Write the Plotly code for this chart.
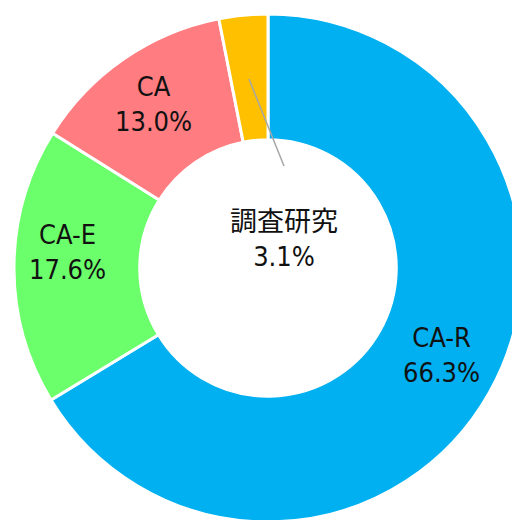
import plotly.graph_objects as go

labels = ["CA-R", "CA-E", "CA", "調査研究"]
values = [66.3, 17.6, 13.0, 3.1]
colors = ["#00B0F0", "#6BFF6B", "#FF7C80", "#FFC000"]

W, H = 540, 540
cx, cy, R = 268, 268, 254

def px(x):
    return x / W

def py(y):
    return 1 - y / H

fig = go.Figure(go.Pie(
    labels=labels, values=values, hole=0.505, sort=False,
    direction="clockwise", rotation=0,
    marker=dict(colors=colors, line=dict(color="white", width=3)),
    textinfo="none", hoverinfo="label+percent",
    domain=dict(x=[px(cx - R), px(cx + R)], y=[py(cy + R), py(cy - R)]),
    showlegend=False,
))

# label positions (pixels) for each slice
label_pos = [(441, 355), (67, 252), (153, 104), (284, 239)]
font = dict(family="DejaVu Sans Condensed, Noto Sans CJK JP, sans-serif", size=27, color="#111111")
for lab, val, (x, y) in zip(labels, values, label_pos):
    fig.add_annotation(x=px(x), y=py(y), xref="paper", yref="paper",
                       text=f"{lab}<br>{val:.1f}%", showarrow=False,
                       font=font, xanchor="center", yanchor="middle")

# leader line for the small slice
fig.add_shape(type="line", xref="paper", yref="paper",
              x0=px(249), y0=py(79), x1=px(284), y1=py(166),
              line=dict(color="#A6A6A6", width=1.5))

fig.update_layout(width=W, height=H, margin=dict(l=0, r=0, t=0, b=0),
                  paper_bgcolor="white", plot_bgcolor="white")

fig.write_html("out.html", config={"displayModeBar": False},
               post_script="document.body.style.margin='0';document.body.style.overflow='hidden';document.documentElement.style.overflow='hidden';")
